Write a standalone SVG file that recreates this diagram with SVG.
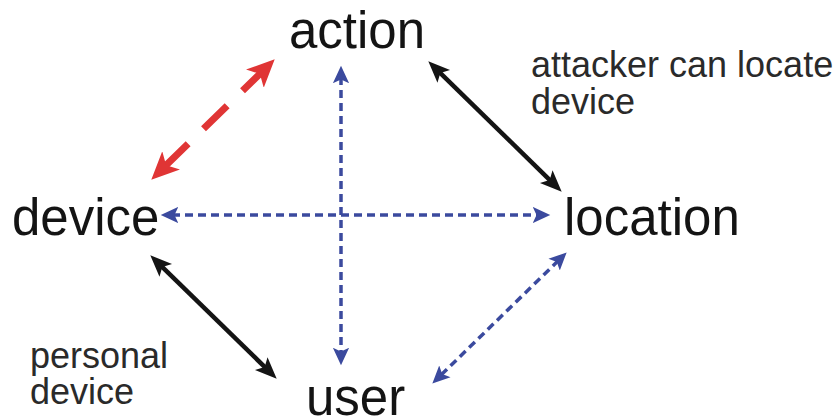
<svg xmlns="http://www.w3.org/2000/svg" width="838" height="419" viewBox="0 0 838 419">
<defs>
<style>
.big{font-family:"Liberation Sans",Arial,sans-serif;font-size:51px;fill:#141414}
.small{font-family:"Liberation Sans",Arial,sans-serif;font-size:36px;fill:#2a2a2a}
.red{stroke:#e03535;stroke-width:7;fill:none;stroke-dasharray:33 21.5}
.blk{stroke:#141414;stroke-width:4.5;fill:none}
.blu{stroke:#3b4a9e;stroke-width:3.5;fill:none;stroke-dasharray:8 5}
</style>
<marker id="mr" markerUnits="userSpaceOnUse" markerWidth="30" markerHeight="30" viewBox="0 -12 26 24" refX="8" refY="0" orient="auto-start-reverse">
<path d="M0,-11 L24,0 L0,11 L6,0 Z" fill="#e03535"/>
</marker>
<marker id="mk" markerUnits="userSpaceOnUse" markerWidth="24" markerHeight="24" viewBox="0 -9 20 18" refX="6" refY="0" orient="auto-start-reverse">
<path d="M0,-7.5 L18,0 L0,7.5 L4,0 Z" fill="#141414"/>
</marker>
<marker id="mb" markerUnits="userSpaceOnUse" markerWidth="20" markerHeight="20" viewBox="0 -8 16 16" refX="5" refY="0" orient="auto-start-reverse">
<path d="M0,-6.5 L14,0 L0,6.5 L3,0 Z" fill="#3b4a9e"/>
</marker>
</defs>
<rect width="838" height="419" fill="#ffffff"/>
<g id="connectors">
<line class="red" x1="164.5" y1="166.8" x2="261.5" y2="72.2" marker-start="url(#mr)" marker-end="url(#mr)"/>
<line class="blk" x1="438.6" y1="71.4" x2="551.4" y2="181.6" marker-start="url(#mk)" marker-end="url(#mk)"/>
<line class="blk" x1="160.6" y1="265.4" x2="266.4" y2="368.6" marker-start="url(#mk)" marker-end="url(#mk)"/>
<line class="blu" x1="558.6" y1="260.3" x2="440.4" y2="375.7" marker-start="url(#mb)" marker-end="url(#mb)"/>
<line class="blu" x1="341" y1="77" x2="341" y2="354" marker-start="url(#mb)" marker-end="url(#mb)"/>
<line class="blu" x1="172" y1="215" x2="539" y2="215" marker-start="url(#mb)" marker-end="url(#mb)"/>
</g>
<g id="action"><text class="big" x="289" y="48">action</text></g>
<g id="device"><text class="big" x="12" y="235">device</text></g>
<g id="location"><text class="big" x="564" y="235">location</text></g>
<g id="user"><text class="big" x="306" y="415">user</text></g>
<g id="label-attacker"><text class="small" x="531" y="77">attacker can locate</text><text class="small" x="531" y="114">device</text></g>
<g id="label-personal"><text class="small" x="30" y="368">personal</text><text class="small" x="30" y="404">device</text></g>
</svg>
